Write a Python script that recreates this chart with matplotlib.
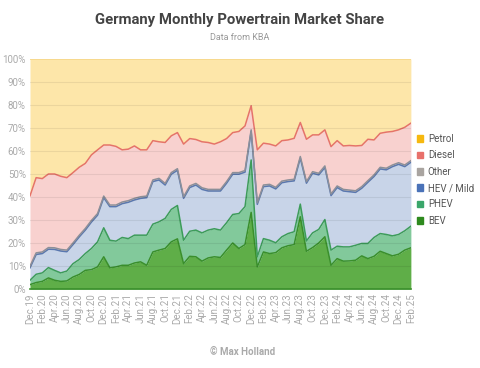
import numpy as np
import matplotlib
matplotlib.use("Agg")
import matplotlib.pyplot as plt
from matplotlib.patches import Patch

plt.rcParams['font.family'] = ['Roboto', 'DejaVu Sans']

# months Dec.19 .. Feb.25
mon = ['Jan', 'Feb', 'Mar', 'Apr', 'May', 'Jun', 'Jul', 'Aug', 'Sep', 'Oct', 'Nov', 'Dec']
months = ['Dec.19'] + ['%s.%d' % (mon[m], y) for y in range(20, 26) for m in range(12)][:62]

# cumulative share (%), bottom to top
bev_top = [1.9, 2.8, 3.3, 4.8, 3.8, 3.3, 3.5, 5.2, 6.3, 8.1, 8.4, 9.6, 14.0,
           9.2, 9.6, 10.3, 10.3, 11.3, 11.8, 10.3, 16.1, 16.9, 17.6, 20.5, 21.8,
           11.0, 14.2, 14.0, 12.1, 13.5, 14.0, 13.7, 16.9, 20.0, 17.6, 19.3, 33.3,
           9.6, 16.1, 15.4, 15.8, 17.9, 18.8, 19.3, 31.4, 16.4, 18.0, 20.0, 22.7,
           10.3, 13.2, 12.1, 12.2, 12.5, 14.4, 13.2, 14.2, 16.4, 15.4, 14.4, 15.1,
           16.9, 17.9]
phev_top = [3.8, 6.4, 7.0, 9.3, 8.1, 7.0, 7.8, 11.0, 12.8, 15.4, 17.6, 20.5, 26.6,
            21.2, 20.8, 22.4, 21.9, 23.4, 23.4, 23.4, 28.2, 29.2, 30.7, 34.6, 36.3,
            21.2, 25.1, 25.6, 24.4, 25.6, 26.2, 25.6, 28.8, 32.4, 32.8, 35.8, 56.1,
            14.0, 21.9, 21.2, 20.1, 22.7, 24.1, 24.9, 36.9, 20.9, 24.4, 25.9, 30.2,
            16.9, 18.6, 18.3, 18.3, 19.0, 19.8, 19.8, 22.4, 24.1, 23.7, 23.1, 23.7,
            25.3, 27.3]
other_top = [9.9, 15.7, 16.1, 18.0, 17.9, 17.2, 16.9, 20.0, 23.3, 26.3, 29.8, 32.8, 40.4,
             36.5, 36.5, 37.8, 38.4, 39.4, 40.1, 40.4, 47.4, 48.1, 45.9, 50.6, 52.3,
             40.1, 44.8, 45.9, 44.0, 43.3, 43.3, 43.3, 46.7, 50.6, 50.6, 51.5, 69.2,
             37.5, 45.2, 45.5, 44.2, 46.9, 47.4, 47.7, 57.6, 46.7, 51.0, 50.3, 53.5,
             41.3, 44.8, 43.3, 43.0, 42.7, 44.5, 47.1, 49.6, 52.9, 52.5, 53.9, 54.9,
             53.9, 55.8]
# thin "Other" band just above HEV / Mild
other = [0.7, 0.7, 0.7, 0.7, 0.7, 0.7, 0.7, 0.7, 0.7, 0.7, 0.7, 0.7, 0.7,
         0.7, 0.7, 0.7, 0.7, 0.7, 0.7, 0.7, 0.7, 0.7, 0.7, 0.7, 0.7,
         0.7, 0.7, 0.7, 0.7, 0.7, 0.7, 0.7, 0.7, 0.7, 0.7, 0.7, 0.7,
         0.7, 0.7, 0.7, 0.7, 0.7, 0.7, 0.7, 0.7, 0.7, 0.7, 0.7, 0.7,
         0.7, 0.7, 0.7, 0.7, 0.7, 0.7, 0.7, 0.7, 0.7, 0.7, 0.7, 0.7,
         0.7, 0.7]
diesel_top = [40.5, 48.4, 48.0, 50.0, 50.0, 49.0, 48.4, 50.6, 52.9, 54.6, 58.3, 60.5, 62.6,
              62.6, 62.0, 60.5, 60.8, 62.2, 60.5, 60.5, 64.5, 64.0, 63.7, 66.6, 68.0,
              63.0, 65.4, 65.0, 64.0, 63.7, 63.0, 64.0, 65.4, 68.0, 68.5, 70.9, 79.7,
              60.5, 63.4, 63.0, 62.2, 64.5, 64.8, 65.5, 72.4, 65.1, 67.0, 67.0, 69.2,
              61.9, 64.5, 62.2, 62.4, 62.2, 62.4, 65.1, 64.8, 67.7, 68.2, 68.5, 69.2,
              70.3, 72.1]
petrol_top = [100] * 63

x = np.arange(len(months))
bev_top = np.array(bev_top)
phev_top = np.array(phev_top)
other_top = np.array(other_top)
hev_top = other_top - np.array(other)
diesel_top = np.array(diesel_top)
petrol_top = np.array(petrol_top)
zero = np.zeros(len(x))

fig = plt.figure(figsize=(4.8, 3.68), dpi=100)
ax = fig.add_axes([0.0625, 0.2147, 0.7935, 0.625])

layers = [
    (zero, bev_top, '#5fae48', '#3a8f2c'),
    (bev_top, phev_top, '#82c99b', '#3d9c5a'),
    (phev_top, hev_top, '#c8d4e8', '#5a78b0'),
    (hev_top, other_top, '#b9bcc4', '#8c8f98'),
    (other_top, diesel_top, '#f8d1cf', '#e5736a'),
    (diesel_top, petrol_top, '#fde6a9', '#f6d27a'),
]
for lo, hi, fc, lc in layers:
    ax.fill_between(x, lo, hi, color=fc, lw=0)
for lo, hi, fc, lc in layers:
    ax.plot(x, hi, color=lc, lw=1.1, solid_joinstyle='round')

for g in range(10, 100, 10):
    ax.axhline(g, color='#000000', alpha=0.07, lw=0.8, zorder=3)

ax.set_xlim(0, len(x) - 1)
ax.set_ylim(0, 100)
ax.set_yticks(range(0, 101, 10))
ax.set_yticklabels(['%d%%' % v for v in range(0, 101, 10)])
ax.set_xticks(x[::2])
ax.set_xticklabels(months[::2], rotation=90)
ax.tick_params(length=0, labelsize=7, colors='#aaaaaa', pad=3)
for s in ax.spines.values():
    s.set_visible(False)
ax.plot([0, len(x) - 1], [0, 0], color='#3a8f2c', lw=1.2, clip_on=False)

fig.text(0.5, 0.945, 'Germany Monthly Powertrain Market Share', ha='center', va='center',
         fontsize=10.7, fontweight='bold', color='#444444')
fig.text(0.5, 0.898, 'Data from KBA', ha='center', va='center', fontsize=6.5,
         color='#999999')
fig.text(0.506, 0.043, '\u00a9 Max Holland', ha='center', va='center', fontsize=7,
         fontweight='bold', color='#aaaaaa')

handles = [Patch(color=c) for c in ['#f6b80f', '#e8706a', '#a9a4a0', '#4a72b8', '#3aa66a', '#2e8a1e']]
names = ['Petrol', 'Diesel', 'Other', 'HEV / Mild', 'PHEV', 'BEV']
leg = fig.legend(handles, names, loc='center left', bbox_to_anchor=(0.868, 0.511), frameon=False,
                 fontsize=7, handlelength=0.7, handleheight=0.7, handletextpad=0.45,
                 labelspacing=0.65, borderaxespad=0, borderpad=0)
for t in leg.get_texts():
    t.set_color('#555555')

fig.savefig('out.png', dpi=100)
